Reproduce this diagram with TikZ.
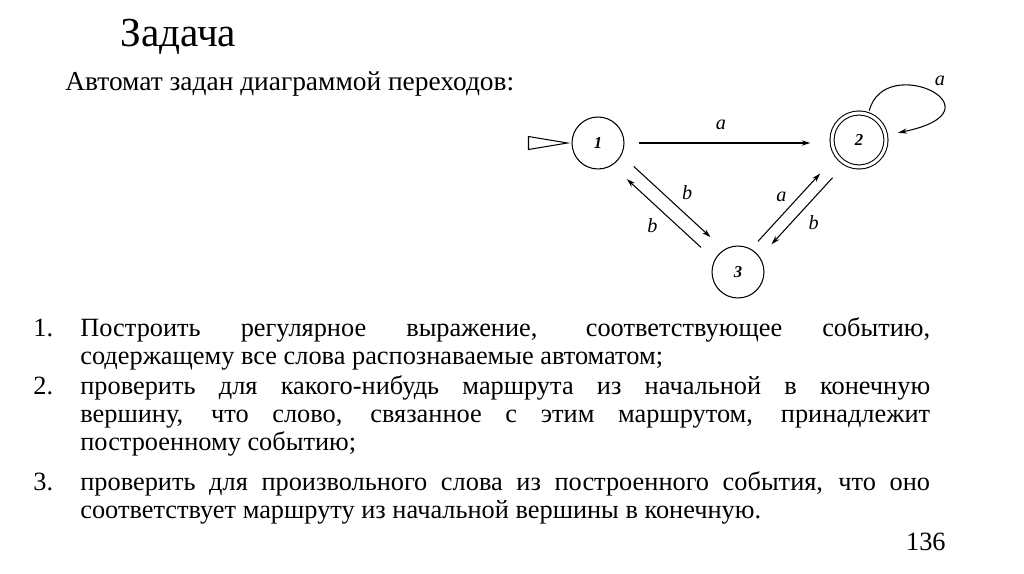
\documentclass[tikz,border=0pt]{standalone}
\usepackage{fontspec}
\setmainfont{Liberation Serif}
\usepackage{tikz}
\usetikzlibrary{arrows.meta,positioning,calc}
\usepackage{xcolor}
\hyphenpenalty=10000
\exhyphenpenalty=10000

\begin{document}
\begin{tikzpicture}[x=0.02cm, y=-0.02cm,
      vertex/.style={circle, draw, line width=0.6pt, minimum size=1.04cm, inner sep=0pt,
                     font=\fontsize{9.5}{10}\selectfont\bfseries\itshape},
      accepting/.style={vertex, double, double distance=0.06cm, minimum size=1.08cm},
      edge/.style={-{Stealth[length=5pt, width=3pt]}, line width=0.6pt},
      lbl/.style={font=\fontsize{11.5}{12}\selectfont\itshape, inner sep=1pt},
      item/.style={anchor=base west, text width=17cm, align=justify, inner sep=0pt,
                   font=\fontsize{15}{16.2}\selectfont},
      num/.style={anchor=base west, inner sep=0pt, font=\fontsize{15}{16}\selectfont}
    ]
      \useasboundingbox (0,0) rectangle (1024,574);

      % Title
      \node[anchor=base west, inner sep=0pt, font=\fontsize{23.5}{24}\selectfont] (title) at (120,47) {Задача};
      \node[anchor=base west, inner sep=0pt, font=\fontsize{15.6}{16}\selectfont] (intro) at (65,91) {Автомат задан диаграммой переходов:};

      % Automaton
      \node[vertex] (n1) at (598,143) {1};
      \node[accepting] (n2) at (859,140) {2};
      \node[vertex] (n3) at (738,272) {3};

      \coordinate (init) at ($(n1.west)+(-4,0)$);
      \draw[line width=0.6pt] (init) -- ++(-39,-6.5) -- ++(0,13) -- cycle;

      \draw[edge, shorten <=8.5pt, shorten >=12pt] (n1.east) -- (n1.east -| n2.west)
        node[lbl, midway, above=6pt, xshift=-4pt] {a};
      \draw[edge, shorten <=24pt, shorten >=25pt] ($(n1)!0.14cm!90:(n3)$) -- ($(n3)!0.14cm!-90:(n1)$)
        node[lbl, midway, above right=0pt and 4pt] {b};
      \draw[edge, shorten <=25pt, shorten >=26pt] ($(n3)!0.14cm!90:(n1)$) -- ($(n1)!0.14cm!-90:(n3)$)
        node[lbl, midway, below left=2pt and 2pt] {b};
      \draw[edge, shorten <=20.5pt, shorten >=29pt] ($(n3)!0.12cm!90:(n2)$) -- ($(n2)!0.12cm!-90:(n3)$)
        node[lbl, midway, above left=-1pt and 3pt] {a};
      \draw[edge, shorten <=26pt, shorten >=24.5pt] ($(n2)!0.12cm!90:(n3)$) -- ($(n3)!0.12cm!-90:(n2)$)
        node[lbl, midway, below right=2pt and 2pt] {b};
      \draw[edge, shorten <=2pt, shorten >=7pt] (n2.70) .. controls +(16,-63) and +(122,-25) .. (n2.10)
        node[lbl, pos=0.5, above right=2pt and 2pt] {a};

      % Tasks
      \node[num] (k1) at (33,336) {1.};
      \node[item] (t1) at (80,336) {Построить регулярное выражение, соответствующее событию,\linebreak
        содержащему все слова распознаваемые автоматом;};
      \node[num] (k2) at (33,394) {2.};
      \node[item] (t2) at (80,394) {проверить для какого-нибудь маршрута из начальной в конечную\linebreak
        вершину, что слово, связанное с этим маршрутом, принадлежит\linebreak
        построенному событию;};
      \node[num] (k3) at (33,490) {3.};
      \node[item] (t3) at (80,490) {проверить для произвольного слова из построенного события, что оно\linebreak
        соответствует маршруту из начальной вершины в конечную.};

      \node[anchor=base east, inner sep=0pt, font=\fontsize{15}{16}\selectfont] (page) at (946,550) {136};
    \end{tikzpicture}
\end{document}
